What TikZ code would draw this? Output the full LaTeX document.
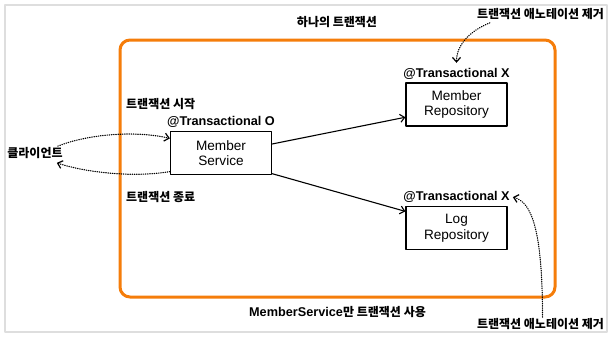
\documentclass[tikz,border=0pt]{standalone}
\usepackage{fontspec}
\setmainfont{Liberation Sans}
\newfontfamily\krfont{Noto Sans CJK KR}
\usetikzlibrary{arrows.meta,positioning}
\definecolor{txorange}{RGB}{245,125,10}
\definecolor{framegray}{RGB}{222,222,222}

\begin{document}
\begin{tikzpicture}[x=1pt,y=-1pt,>={Straight Barb[length=4.5pt,width=8pt]},line cap=round,line join=round,
  unit/.style={draw,line width=1.2pt,minimum width=101pt,minimum height=43pt,align=center,inner sep=0pt,font=\fontsize{13.6}{15.5}\selectfont},
  anno/.style={inner sep=0pt,font=\bfseries\fontsize{12.7}{14}\selectfont},
  kor/.style={inner sep=1pt,font=\krfont\bfseries\fontsize{12}{13.5}\selectfont},
  call/.style={->,line width=1.1pt},
  hint/.style={->,line width=1.2pt,dash pattern=on 0.5pt off 1.7pt}]
\useasboundingbox (0,0) rectangle (609,338);
\draw[framegray,line width=1.3pt] (5,5) rectangle (607,332);
\draw[txorange,line width=3pt,rounded corners=10pt] (120,40) rectangle (555,297);
\node[unit] (ms) at (221,153) {Member\\Service};
\node[unit] (mr) at (456.5,104.5) {Member\\Repository};
\node[unit] (lr) at (456.5,228) {Log\\Repository};
\node[anno,above=3pt of ms] (msan) {@Transactional O};
\node[anno,above=3pt of mr] (mran) {@Transactional X};
\node[anno,above=3pt of lr] (lran) {@Transactional X};
\node[kor] (cl) at (35,153) {클라이언트};
\node[kor,anchor=west] (begin) at (125,104) {트랜잭션 시작};
\node[kor,anchor=west] (end) at (125,197) {트랜잭션 종료};
\node[kor] (one) at (337,22) {하나의 트랜잭션};
\node[kor] (rmtop) at (540.5,14) {트랜잭션 애노테이션 제거};
\node[kor] (rmbot) at (540.5,324) {트랜잭션 애노테이션 제거};
\node[inner sep=1pt,font=\bfseries\fontsize{12.7}{14}\selectfont] (use) at (337.5,312) {MemberService{\krfont\fontsize{12}{13.5}\selectfont 만 트랜잭션 사용}};
\draw[call] (ms.10) -- (mr.194);
\draw[call] (ms.338) -- (lr.162);
\draw[hint] ([xshift=-6pt]cl.north east) .. controls +(30,-12) and +(-35,-8) .. (ms.164);
\draw[hint] (ms.200) .. controls +(-35,6) and +(30,10) .. ([xshift=-7pt,yshift=-3pt]cl.south east);
\draw[hint] ([xshift=14pt,yshift=-2pt]rmtop.south west) .. controls +(-20,8) and +(0,-18) .. ([yshift=5pt]mran.north);
\draw[hint] ([xshift=2pt]rmbot.north) .. controls +(0,-90) and +(18,5) .. ([xshift=3pt]lran.east);
\end{tikzpicture}
\end{document}
